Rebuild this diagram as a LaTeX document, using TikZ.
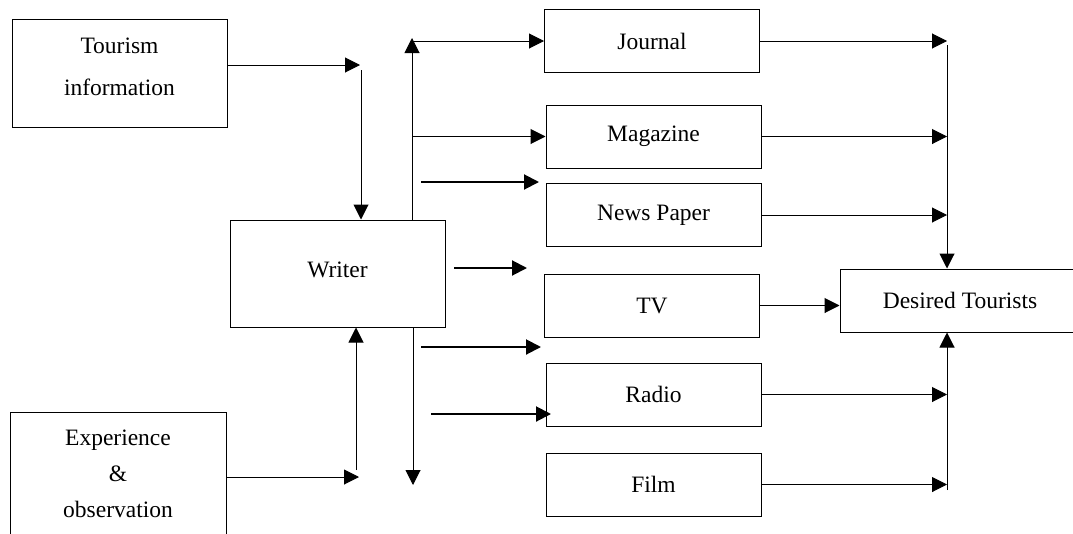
\documentclass[tikz,border=0pt]{standalone}
\usepackage{fontspec}
\setmainfont{Liberation Serif}
\usetikzlibrary{arrows.meta,calc}

\begin{document}
\begin{tikzpicture}[x=1pt,y=-1pt,line width=1pt,font=\fontsize{23.5}{28}\selectfont,
  box/.style={draw,inner sep=0pt,align=center,minimum width=215pt,minimum height=63pt},
  arr/.style={-{Triangle[length=15pt,width=15pt]}},
  bold/.style={arr,line width=2pt}]
\clip (0,0) rectangle (1073,533);
\node[box,minimum height=108pt,font=\fontsize{23.5}{42}\selectfont] (tour) at (119.5,73) {Tourism\\information\\[-30pt]\mbox{}};
\node[box,minimum height=107pt] (wrt) at (337.5,273.5) {Writer\\[-20pt]\mbox{}};
\node[box,minimum width=216pt,minimum height=138pt,font=\fontsize{23.5}{36}\selectfont] (exp) at (118,481) {Experience\\\&\\observation\\[-22pt]\mbox{}};
\node[box] (jrn) at (652,41) {Journal};
\node[box] (mag) at (653.5,136.5) {Magazine};
\node[box] (news) at (653.5,215) {News Paper};
\node[box] (tv) at (652,305.5) {TV};
\node[box] (rad) at (653.5,394.5) {Radio};
\node[box] (film) at (653.5,484.5) {Film};
\node[box,minimum width=240pt] (des) at (960,300.5) {Desired Tourists};
\coordinate (tj) at (360,65);
\coordinate (ej) at (359,477);
\coordinate (eu) at (356,470);
\coordinate (up) at (412,38);
\coordinate (dn) at (413,485);
\coordinate (rj) at (947,45);
\coordinate (rk) at (947,490);
\draw[arr] (tour.east |- tj) -- (tj);
\draw[arr] ($(tj)+(1,5)$) -- ($(tj |- wrt.north)+(1,0)$);
\draw[arr] (exp.east |- ej) -- (ej);
\draw[arr] (eu) -- (eu |- wrt.south);
\draw[arr] (up |- wrt.north) -- (up);
\draw[arr] ($(up)+(0,3)$) -- (up |- jrn.west) -- (jrn.west);
\draw[arr] (up |- mag.west) -- (mag.west);
\draw[arr] (dn |- wrt.south) -- (dn);
\foreach \i/\xa/\xb/\yy in {1/421/539/182,2/454/527/268,3/421/541/347,4/431/551/414}{
  \coordinate (s\i) at (\xa,\yy);
  \coordinate (e\i) at (\xb,\yy);
  \draw[bold] (s\i) -- (e\i);
}
\foreach \n in {jrn,mag,news,rad,film}
  \draw[arr] (\n.east) -- (\n.east -| rj);
\draw[arr] (tv.east) -- (tv.east -| des.west);
\draw[arr] (rj) -- (rj |- des.north);
\draw[arr] (rk) -- (rk |- des.south);
\end{tikzpicture}
\end{document}
